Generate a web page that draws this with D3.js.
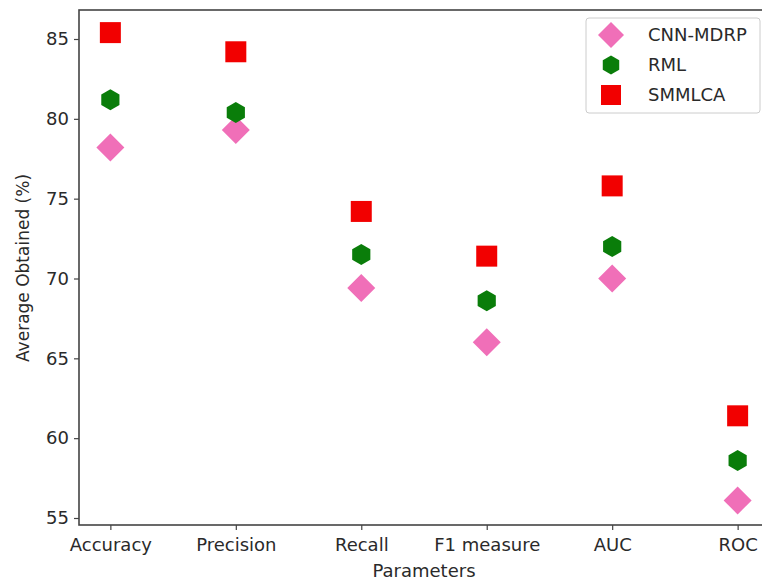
<!DOCTYPE html>
<html><head><meta charset="utf-8">
<script src="https://cdn.jsdelivr.net/npm/d3@7"></script>
<style>body{margin:0;background:#fff}svg{display:block}text{font-family:"DejaVu Sans",sans-serif;fill:#2a2a2a}</style>
</head><body><svg id="c" width="762" height="583"></svg>
<script>
const categories = ["Accuracy","Precision","Recall","F1 measure","AUC","ROC"];
const cnnMdrp = [78.2,79.3,69.4,66.0,70.0,56.1];
const rml     = [81.2,80.4,71.5,68.6,72.0,58.6];
const smmlca  = [85.4,84.2,74.2,71.4,75.8,61.4];
const yTicks = [55,60,65,70,75,80,85];
const seriesNames = ["CNN-MDRP","RML","SMMLCA"];

const svg = d3.select("#c");
const L=79, R=769, T=10, B=525;
const x = d3.scaleLinear().domain([-0.25,5.25]).range([L,R]);
const y = d3.scaleLinear().domain([85,55]).range([39,518]);

const g = svg.append("g");
const xa = g.append("g").attr("transform",`translate(0,${B})`)
  .call(d3.axisBottom(x).tickValues(d3.range(categories.length)).tickFormat(i=>categories[i]).tickSize(5).tickPadding(8));
const ya = g.append("g").attr("transform",`translate(${L},0)`)
  .call(d3.axisLeft(y).tickValues(yTicks).tickSize(5).tickPadding(5));
[xa,ya].forEach(a=>{a.select(".domain").remove();a.selectAll("line").attr("stroke","#444").attr("stroke-width",1.2);
  a.selectAll("text").style("font-size","18px").attr("fill","#2a2a2a");});
g.append("rect").attr("x",L).attr("y",T).attr("width",R-L).attr("height",B-T)
  .attr("fill","none").attr("stroke","#444").attr("stroke-width",1.6);

const hex = (r)=>{const p=[];for(let k=0;k<6;k++){const a=Math.PI/6+k*Math.PI/3;p.push([r*Math.cos(a),r*Math.sin(a)]);}return "M"+p.map(d=>d.join(",")).join("L")+"Z";};
const diamond = (r)=>`M0,${-r}L${r},0L0,${r}L${-r},0Z`;
const square = (r)=>`M${-r},${-r}H${r}V${r}H${-r}Z`;
const styles = [
  {data:cnnMdrp, path:diamond(14), color:"#f06fb8"},
  {data:rml, path:hex(10.5), color:"#0a7d0a"},
  {data:smmlca, path:square(10.5), color:"#f20000"}
];
styles.forEach(s=>{
  g.selectAll(null).data(s.data).enter().append("path")
   .attr("d",s.path).attr("fill",s.color)
   .attr("transform",(d,i)=>`translate(${x(i)},${y(d)})`);
});

const lg = svg.append("g");
lg.append("rect").attr("x",586).attr("y",18).attr("width",174).attr("height",95).attr("rx",3)
  .attr("fill","#fff").attr("stroke","#ccc").attr("stroke-width",1);
const legPaths=[diamond(13),hex(9.5),square(10)];
seriesNames.forEach((n,i)=>{
  const cy=35+i*30;
  lg.append("path").attr("d",legPaths[i]).attr("fill",styles[i].color).attr("transform",`translate(611,${cy})`);
  lg.append("text").attr("x",648).attr("y",cy).attr("dy","0.35em").style("font-size","18px").text(n);
});

svg.append("text").attr("x",424).attr("y",577).attr("text-anchor","middle").style("font-size","18px").text("Parameters");
svg.append("text").attr("transform",`translate(29,268) rotate(-90)`).attr("text-anchor","middle").style("font-size","17px").text("Average Obtained (%)");
</script></body></html>
